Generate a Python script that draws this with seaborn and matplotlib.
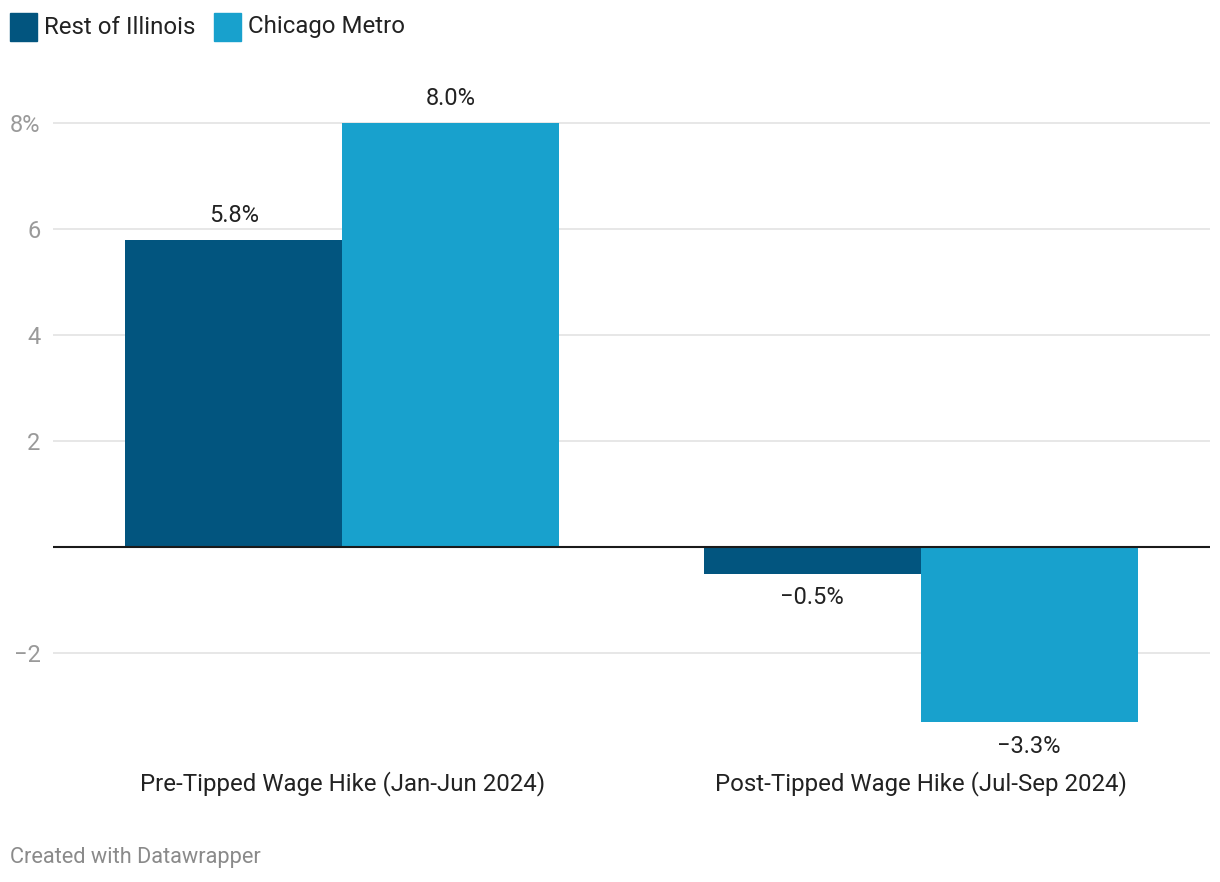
import matplotlib.pyplot as plt
import seaborn as sns
import pandas as pd
from matplotlib.patches import Rectangle

# wage change data
periods = ['Pre-Tipped Wage Hike (Jan-Jun 2024)', 'Post-Tipped Wage Hike (Jul-Sep 2024)']
regions = ['Rest of Illinois', 'Chicago Metro']
rest_of_illinois = [5.8, -0.5]
chicago_metro = [8.0, -3.3]
yticks = [-2, 2, 4, 6, 8]

df = pd.DataFrame({
    'Period': periods * 2,
    'Region': [regions[0]] * 2 + [regions[1]] * 2,
    'Change': rest_of_illinois + chicago_metro,
})

colors = {'Rest of Illinois': '#02557f', 'Chicago Metro': '#18a1cd'}

sns.set_style("white")
plt.rcParams['font.family'] = ['Roboto', 'DejaVu Sans']

fig = plt.figure(figsize=(12.2, 8.82), dpi=100)
ax = fig.add_axes([53 / 1220, 1 - 729.85 / 882, 1157 / 1220, 633.35 / 882])

sns.barplot(data=df, x='Period', y='Change', hue='Region', hue_order=regions,
            palette=colors, width=0.75, saturation=1, ax=ax, legend=False,
            edgecolor='none', linewidth=0, zorder=3)

ax.set_xlim(-0.5, 1.5)
ax.set_ylim(-3.45, 8.5)

# grid and zero line
for t in yticks:
    ax.axhline(t, color='#e3e3e3', lw=1.2, zorder=1)
ax.axhline(0, color='#1a1a1a', lw=1.5, zorder=4)

ax.set_yticks(yticks)
ax.set_yticklabels([('\u2212' + str(abs(t))) if t < 0 else (f'{t}%' if t == 8 else str(t)) for t in yticks])
ax.tick_params(axis='y', length=0, labelsize=17, labelcolor='#9a9a9a', pad=9)
ax.tick_params(axis='x', length=0, labelsize=17.3, labelcolor='#222222', pad=30)
for lbl in ax.get_yticklabels():
    lbl.set_horizontalalignment('right')
ax.set_xlabel('')
ax.set_ylabel('')
sns.despine(ax=ax, left=True, bottom=True)

# value labels
for container in ax.containers:
    for bar in container:
        h = bar.get_height()
        txt = f'{h:.1f}%'.replace('-', '\u2212')
        x = bar.get_x() + bar.get_width() / 2
        off = 17.5 if h >= 0 else -17.5
        ax.annotate(txt, (x, h), xytext=(0, off), textcoords='offset points',
                    ha='center', va='center', fontsize=17, color='#222222')

# legend
lx = [10, 214]
for i, r in enumerate(regions):
    fig.patches.append(Rectangle((lx[i] / 1220, 1 - 41 / 882), 27 / 1220, 28 / 882,
                                 transform=fig.transFigure, color=colors[r]))
    fig.text((lx[i] + 34) / 1220, 1 - 27 / 882, r, fontsize=17.3, color='#222222',
             va='center', ha='left')

fig.text(10 / 1220, 1 - 857 / 882, 'Created with Datawrapper', fontsize=15.7,
         color='#8a8a8a', va='center', ha='left')

plt.savefig("out.png", dpi=100)
